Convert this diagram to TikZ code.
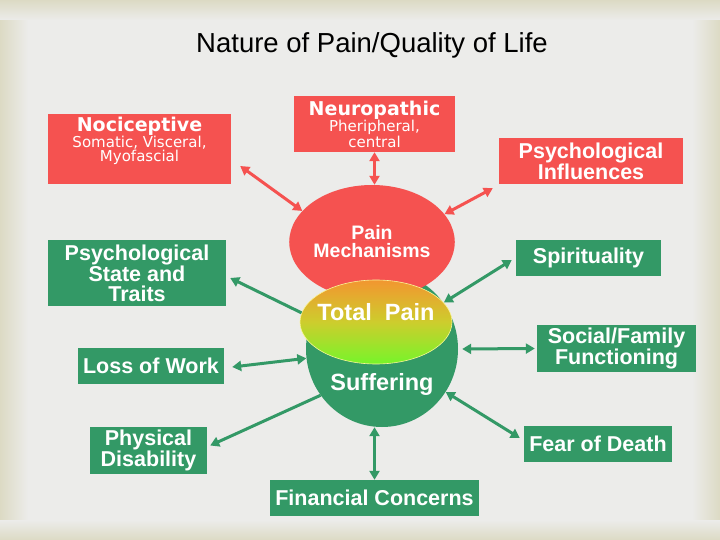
\documentclass[tikz,border=0pt]{standalone}
\usepackage{fontspec}
\setmainfont{Liberation Sans}
\newfontfamily\verdana{DejaVu Sans}
\usepackage{tikz}
\usetikzlibrary{positioning,arrows.meta,calc,shapes.geometric}

\definecolor{painred}{RGB}{245,82,80}
\definecolor{sufgreen}{RGB}{51,153,102}
\definecolor{bggray}{RGB}{236,236,234}
\definecolor{bgbeige}{RGB}{220,218,196}
\definecolor{tptop}{RGB}{242,150,48}
\definecolor{tpmid}{RGB}{205,205,45}
\definecolor{tpbot}{RGB}{118,245,42}

\newcommand{\bigfont}{\fontsize{21.5}{19.5}\selectfont\bfseries}
\newcommand{\headfont}{\verdana\fontsize{19}{18}\selectfont\bfseries}
\newcommand{\subfont}{\verdana\fontsize{15}{13}\selectfont}

\begin{document}
\begin{tikzpicture}[x=1pt, y=-1pt,
  box/.style={rectangle, inner sep=0pt, text=white, align=center, font=\bigfont},
  redbox/.style={box, fill=painred},
  greenbox/.style={box, fill=sufgreen},
  txt/.style={inner sep=0pt, text=white, align=center, font=\bigfont},
  arr/.style={{Triangle[length=9pt,width=10pt]}-{Triangle[length=9pt,width=10pt]}, line width=3pt},
  redarr/.style={arr, draw=painred},
  greenarr/.style={arr, draw=sufgreen},
  onearr/.style={-{Triangle[length=9pt,width=10pt]}, line width=3pt, draw=sufgreen}
]
% background
\useasboundingbox (0,0) rectangle (720,540);
\fill[bggray] (0,0) rectangle (720,540);
\shade[left color=bgbeige, right color=bggray] (0,0) rectangle (28,540);
\shade[left color=bggray, right color=bgbeige] (692,0) rectangle (720,540);
\shade[top color=bgbeige, bottom color=bggray] (0,0) rectangle (720,20);
\shade[top color=bggray, bottom color=bgbeige] (0,520) rectangle (720,540);

\node[font=\fontsize{27.5}{30}\selectfont] (title) at (372,45) {Nature of Pain/Quality of Life};

% centre
\node[ellipse, fill=sufgreen, inner sep=0pt, minimum width=152, minimum height=156] (suffer) at (382,349) {};
\node[txt, font=\fontsize{23.5}{24}\selectfont\bfseries] (suftxt) at ([yshift=-35pt]suffer.center) {Suffering};
\node[ellipse, fill=painred, inner sep=0pt, minimum width=156, minimum height=114, text=white, align=center,
  font=\fontsize{19.5}{18}\selectfont\bfseries] (mech) at (372,242) {Pain\\Mechanisms};
\node[ellipse, top color=tptop, bottom color=tpbot, middle color=tpmid, draw={rgb,255:red,250;green,245;blue,150}, line width=0.6pt,
  inner sep=0pt, minimum width=152, minimum height=84] (total) at (376,322) {};
\node[txt, font=\fontsize{23.5}{24}\selectfont\bfseries] (totaltxt) at ([yshift=10pt]total.center) {Total\ \ Pain};

% pain side
\node[redbox, minimum width=183, minimum height=70] (noci) at (139.5,149) {};
\node[txt, font=\subfont] (nocitxt) at ([yshift=8pt]noci.center) {{\headfont Nociceptive}\\Somatic, Visceral,\\Myofascial};
\node[redbox, minimum width=161, minimum height=56, font=\subfont] (neuro) at (374.5,124) {{\headfont Neuropathic}\\Pheripheral,\\central};
\node[redbox, minimum width=184, minimum height=46] (psyinf) at (591,161) {Psychological\\Influences};

% suffering side
\node[greenbox, minimum width=178, minimum height=66] (pst) at (137,273) {Psychological\\State and\\Traits};
\node[greenbox, minimum width=146, minimum height=36] (low) at (151,366) {Loss of Work};
\node[greenbox, minimum width=117, minimum height=47] (phys) at (148.5,450.5) {Physical\\Disability};
\node[greenbox, minimum width=209, minimum height=36] (fin) at (374.5,498) {Financial Concerns};
\node[greenbox, minimum width=148, minimum height=36] (fear) at (598,444) {Fear of Death};
\node[greenbox, minimum width=159, minimum height=47] (social) at (616.5,348.5) {Social/Family\\Functioning};
\node[greenbox, minimum width=145, minimum height=36] (spirit) at (588.5,258) {Spirituality};

% connectors
\draw[redarr] ([shift={(9,17)}]noci.east) -- (mech.156);
\draw[redarr] (neuro.south) -- (neuro.south |- mech.north);
\draw[redarr] ([shift={(-6,4)}]psyinf.south west) -- (mech.21);
\draw[onearr] (total.173) -- ([shift={(4,5)}]pst.east);
\draw[greenarr] ([shift={(8,1)}]low.east) -- (suffer.187);
\draw[onearr] (suffer.217) -- ([shift={(3,-5)}]phys.east);
\draw[greenarr] (fin.north) -- (fin.north |- suffer.south);
\draw[greenarr] ([shift={(-4,-6)}]fear.west) -- (suffer.-34);
\draw[greenarr, shorten <=4pt, shorten >=2pt] (suffer.east) -- (social.west);
\draw[greenarr] ([shift={(-4,2)}]spirit.west) -- (total.16);
\end{tikzpicture}
\end{document}
